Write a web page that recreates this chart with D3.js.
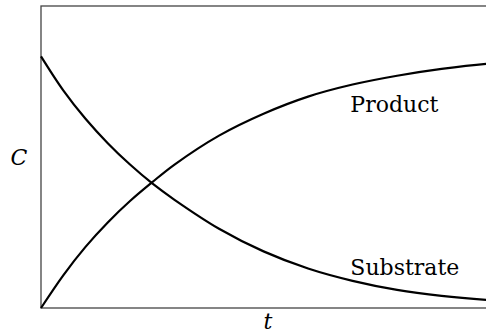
<!DOCTYPE html>
<html>
<head>
<meta charset="utf-8">
<script src="https://cdn.jsdelivr.net/npm/d3@7"></script>
<style>
  body { margin: 0; background: white; }
  svg { display: block; }
  text { font-family: "DejaVu Serif", serif; }
</style>
</head>
<body>
<script>
// time points (arbitrary units) and concentrations
const times     = [0, 0.5, 1, 1.5, 2, 2.5, 3, 4, 5, 6, 7, 8, 9, 10, 10.2];
const substrate = [1.0, 0.865, 0.752, 0.655, 0.57, 0.495, 0.43, 0.315, 0.225, 0.157, 0.108, 0.072, 0.048, 0.032, 0.030];
const product   = [0, 0.13, 0.243, 0.34, 0.425, 0.5, 0.57, 0.685, 0.772, 0.84, 0.888, 0.923, 0.95, 0.97, 0.972];
const labels = [{ name: 'Product', t: 6.95, c: 0.78 }, { name: 'Substrate', t: 6.95, c: 0.13 }];

let width = 486, height = 335;
let margin = { left: 41, top: 6, right: -9, bottom: 27 };

let svg = d3.select('body')
    .append('svg')
    .attr('width', width)
    .attr('height', height);

let xScale = d3.scaleLinear()
    .domain([0, 10.2])
    .range([margin.left, width - margin.right]);

let yScale = d3.scaleLinear()
    .domain([0, 1.2])
    .range([height - margin.bottom, margin.top]);

// frame (right edge falls outside the window)
svg.append('rect')
    .attr('x', xScale(0))
    .attr('y', yScale(1.2))
    .attr('width', xScale(10.2) - xScale(0))
    .attr('height', yScale(0) - yScale(1.2))
    .attr('fill', 'none')
    .attr('stroke', '#444')
    .attr('stroke-width', 1.3);

let line = (vals) => d3.line()
    .x((d, i) => xScale(times[i]))
    .y(d => yScale(d))
    .curve(d3.curveCatmullRom.alpha(0.5))(vals);

[substrate, product].forEach(s => {
    svg.append('path')
        .attr('d', line(s))
        .attr('fill', 'none')
        .attr('stroke', 'black')
        .attr('stroke-width', 2.2);
});

svg.selectAll('.lbl')
    .data(labels)
    .enter()
    .append('text')
    .attr('class', 'lbl')
    .attr('x', d => xScale(d.t))
    .attr('y', d => yScale(d.c))
    .attr('font-size', 22)
    .text(d => d.name);

svg.append('text')
    .attr('x', 19)
    .attr('y', yScale(0.6) + 8)
    .attr('text-anchor', 'middle')
    .attr('font-style', 'italic')
    .attr('font-size', 22)
    .text('C');

svg.append('text')
    .attr('x', (xScale(0) + xScale(10.2)) / 2)
    .attr('y', height - 6)
    .attr('text-anchor', 'middle')
    .attr('font-style', 'italic')
    .attr('font-size', 22)
    .text('t');
</script>
</body>
</html>
